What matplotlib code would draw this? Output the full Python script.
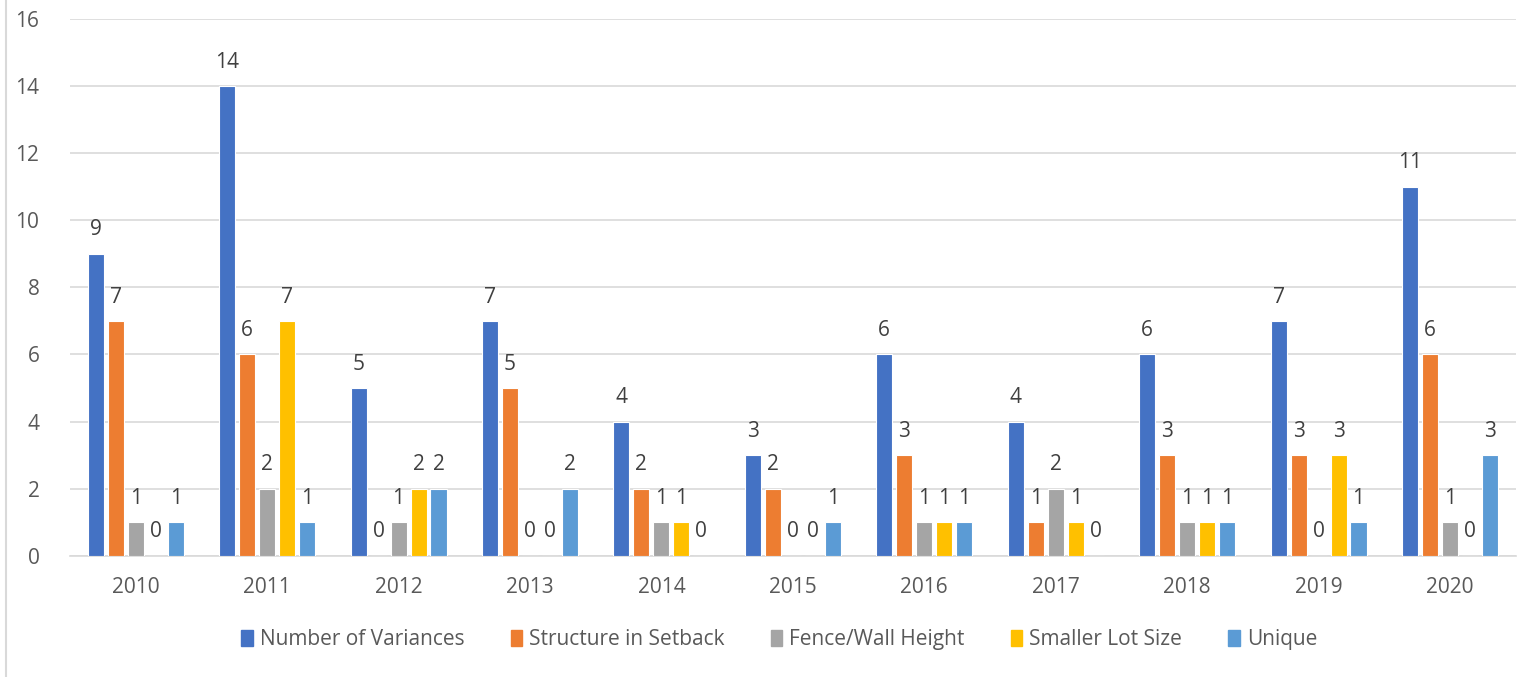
import numpy as np
import matplotlib.pyplot as plt
from matplotlib.patches import Rectangle

# years and series values
YEARS = ['2010', '2011', '2012', '2013', '2014', '2015',
         '2016', '2017', '2018', '2019', '2020']
NUM_VARIANCES = [9, 14, 5, 7, 4, 3, 6, 4, 6, 7, 11]
SETBACK = [7, 6, 0, 5, 2, 2, 3, 1, 3, 3, 6]
FENCE_WALL = [1, 2, 1, 0, 1, 0, 1, 2, 1, 0, 1]
SMALLER_LOT = [0, 7, 2, 0, 1, 0, 1, 1, 1, 3, 0]
UNIQUE = [1, 1, 2, 2, 0, 1, 1, 0, 1, 1, 3]

SERIES = ['Number of Variances', 'Structure in Setback', 'Fence/Wall Height',
          'Smaller Lot Size', 'Unique']
COLORS = ['#4472C4', '#ED7D31', '#A5A5A5', '#FFC000', '#5B9BD5']
TEXT = '#595959'
FS = 15

plt.rcParams['font.family'] = ['Open Sans', 'DejaVu Sans']

fig = plt.figure(figsize=(15.31, 6.77), dpi=100)
ax = fig.add_axes([0.0457, 0.179, 0.9443, 0.793])

# thin grey frame line on the left edge of the image
fig.add_artist(plt.Line2D([0.004, 0.004], [0, 1], color='#D9D9D9', lw=1.5,
                          transform=fig.transFigure))

x = np.arange(len(YEARS))
data = [NUM_VARIANCES, SETBACK, FENCE_WALL, SMALLER_LOT, UNIQUE]
step = 0.152
width = 0.122
for i, (vals, col, name) in enumerate(zip(data, COLORS, SERIES)):
    pos = x + (i - 2) * step
    ax.bar(pos, vals, width=width, color=col, edgecolor='white', linewidth=0.8,
           label=name, zorder=3)
    for p, v in zip(pos, vals):
        ax.text(p, v + 0.4, str(v), ha='center', va='bottom', fontsize=FS,
                color='#404040')

ax.set_xlim(-0.5, len(YEARS) - 0.5)
ax.set_ylim(0, 16)
ax.set_yticks(range(0, 17, 2))
ax.set_xticks(x)
ax.set_xticklabels(YEARS)
ax.yaxis.grid(True, color='#D9D9D9', lw=1.2, zorder=0)
for s in ['top', 'right', 'left']:
    ax.spines[s].set_visible(False)
ax.spines['bottom'].set_color('#D9D9D9')
ax.spines['bottom'].set_linewidth(1.2)
ax.tick_params(axis='both', length=0, labelsize=FS, colors=TEXT)
ax.tick_params(axis='x', pad=15)
ax.tick_params(axis='y', pad=22)

handles = [Rectangle((0, 0), 1, 1, color=c) for c in COLORS]
leg = fig.legend(handles, SERIES, loc='center', bbox_to_anchor=(0.509, 0.055),
                 ncol=5, frameon=False, fontsize=FS, handlelength=0.55,
                 handleheight=0.75, handletextpad=0.35, columnspacing=2.2)
for t in leg.get_texts():
    t.set_color(TEXT)

fig.savefig('out.png', dpi=100)
